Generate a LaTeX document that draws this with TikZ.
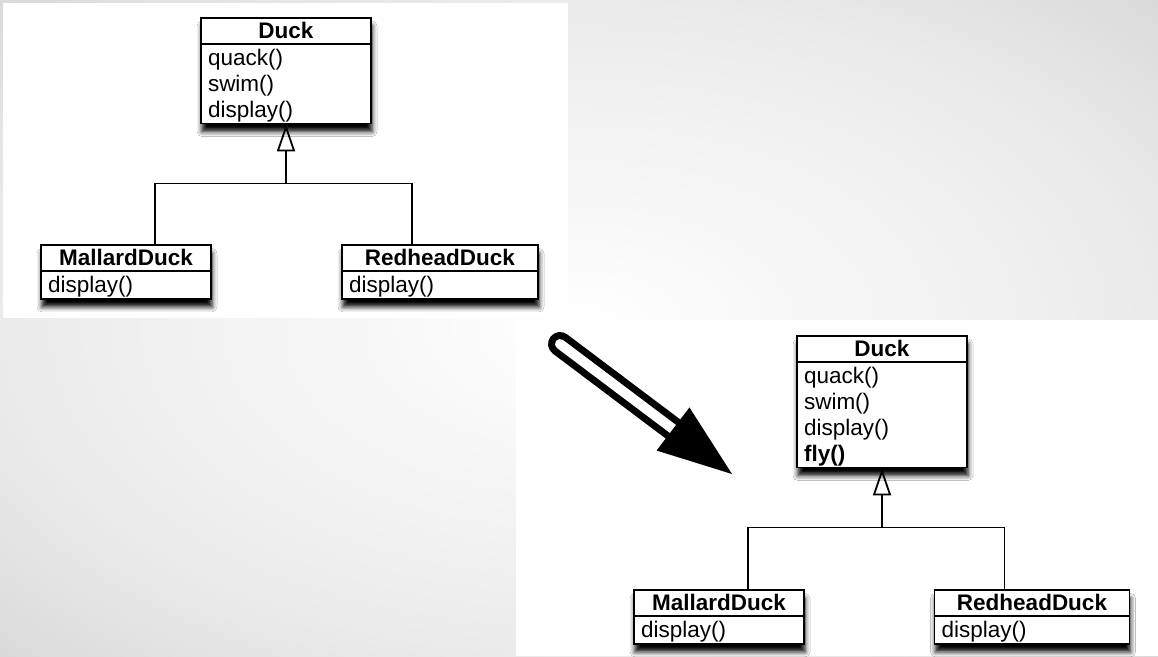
\documentclass[tikz,border=0pt]{standalone}
\usepackage{fontspec}
\setmainfont{Liberation Sans}
\usetikzlibrary{arrows.meta,positioning,calc,shapes.multipart,shadows.blur}

\newcommand{\rowfit}{\rule[-5.2pt]{0pt}{26pt}}
\newcommand{\titlefit}{\rule[-4.4pt]{0pt}{24pt}}
\pgfdeclareradialshading{slidebg}{\pgfpoint{0bp}{0bp}}{color(0bp)=(white); color(25bp)=(black!8); color(50bp)=(black!24)}

\begin{document}
\begin{tikzpicture}[
            x=1pt, y=1pt,
            umlclass/.style={rectangle split, rectangle split parts=2, draw, line width=1.8pt, fill=white,
                text width=#1, inner xsep=7pt, inner ysep=0pt, font=\fontsize{22.5}{26}\selectfont,
                blur shadow={shadow xshift=1pt, shadow yshift=-8pt, shadow blur radius=5pt, shadow opacity=100}},
            link/.style={line width=1.8pt},
            isa/.style={link, -{Triangle[open, length=27pt, width=18pt]}}
        ]
        % slide background
        \useasboundingbox (0,0) rectangle (1158,-656);
        \shade[shading=slidebg] (0,0) rectangle (1158,-656);
        \fill[white] (3,-3) rectangle (568,-318);
        \fill[white] (516,-320) rectangle (1158,-656);

        % before
        \node[umlclass=156pt, anchor=north] (duck) at (286,-17)
            {\centering\textbf{Duck}\titlefit\par\nodepart{second}quack()\rowfit\\swim()\rowfit\\display()\rowfit};
        \node[umlclass=156pt, below=120pt of duck, xshift=-160pt] (mallard)
            {\centering\textbf{MallardDuck}\titlefit\par\nodepart{second}display()\rowfit};
        \node[umlclass=182pt, below=120pt of duck, xshift=154pt] (redhead)
            {\centering\textbf{RedheadDuck}\titlefit\par\nodepart{second}display()\rowfit};

        \coordinate (hub) at ($(duck.south)+(0,-59)$);
        \coordinate (mdrop) at ($(mallard.north west)!0.67!(mallard.north east)$);
        \coordinate (rdrop) at ($(redhead.north west)!0.36!(redhead.north east)$);
        \draw[link] (mdrop) |- (hub) -| (rdrop);
        \draw[isa] (hub) -- (duck.south);

        % hollow arrow
        \coordinate (tail) at (560,-344);
        \coordinate (neck) at (673,-429);
        \coordinate (tip) at (732,-474);
        \draw[line width=7pt, double=white, double distance=10pt, line cap=round] (tail) -- (neck);
        \fill (tip) -- ($(neck)!0.365!90:(tip)$) -- ($(neck)!0.365!-90:(tip)$) -- cycle;

        % after
        \node[umlclass=156pt, anchor=north] (duck2) at (882,-335)
            {\centering\textbf{Duck}\titlefit\par\nodepart{second}quack()\rowfit\\swim()\rowfit\\display()\rowfit\\\textbf{fly()}\rowfit};
        \node[umlclass=156pt, below=121pt of duck2, xshift=-163pt] (mallard2)
            {\centering\textbf{MallardDuck}\titlefit\par\nodepart{second}display()\rowfit};
        \node[umlclass=181pt, below=121pt of duck2, xshift=150pt] (redhead2)
            {\centering\textbf{RedheadDuck}\titlefit\par\nodepart{second}display()\rowfit};

        \coordinate (hub2) at ($(duck2.south)+(0,-59)$);
        \coordinate (mdrop2) at ($(mallard2.north west)!0.67!(mallard2.north east)$);
        \coordinate (rdrop2) at ($(redhead2.north west)!0.36!(redhead2.north east)$);
        \draw[link] (mdrop2) |- (hub2) -| (rdrop2);
        \draw[isa] (hub2) -- (duck2.south);
    \end{tikzpicture}
\end{document}
